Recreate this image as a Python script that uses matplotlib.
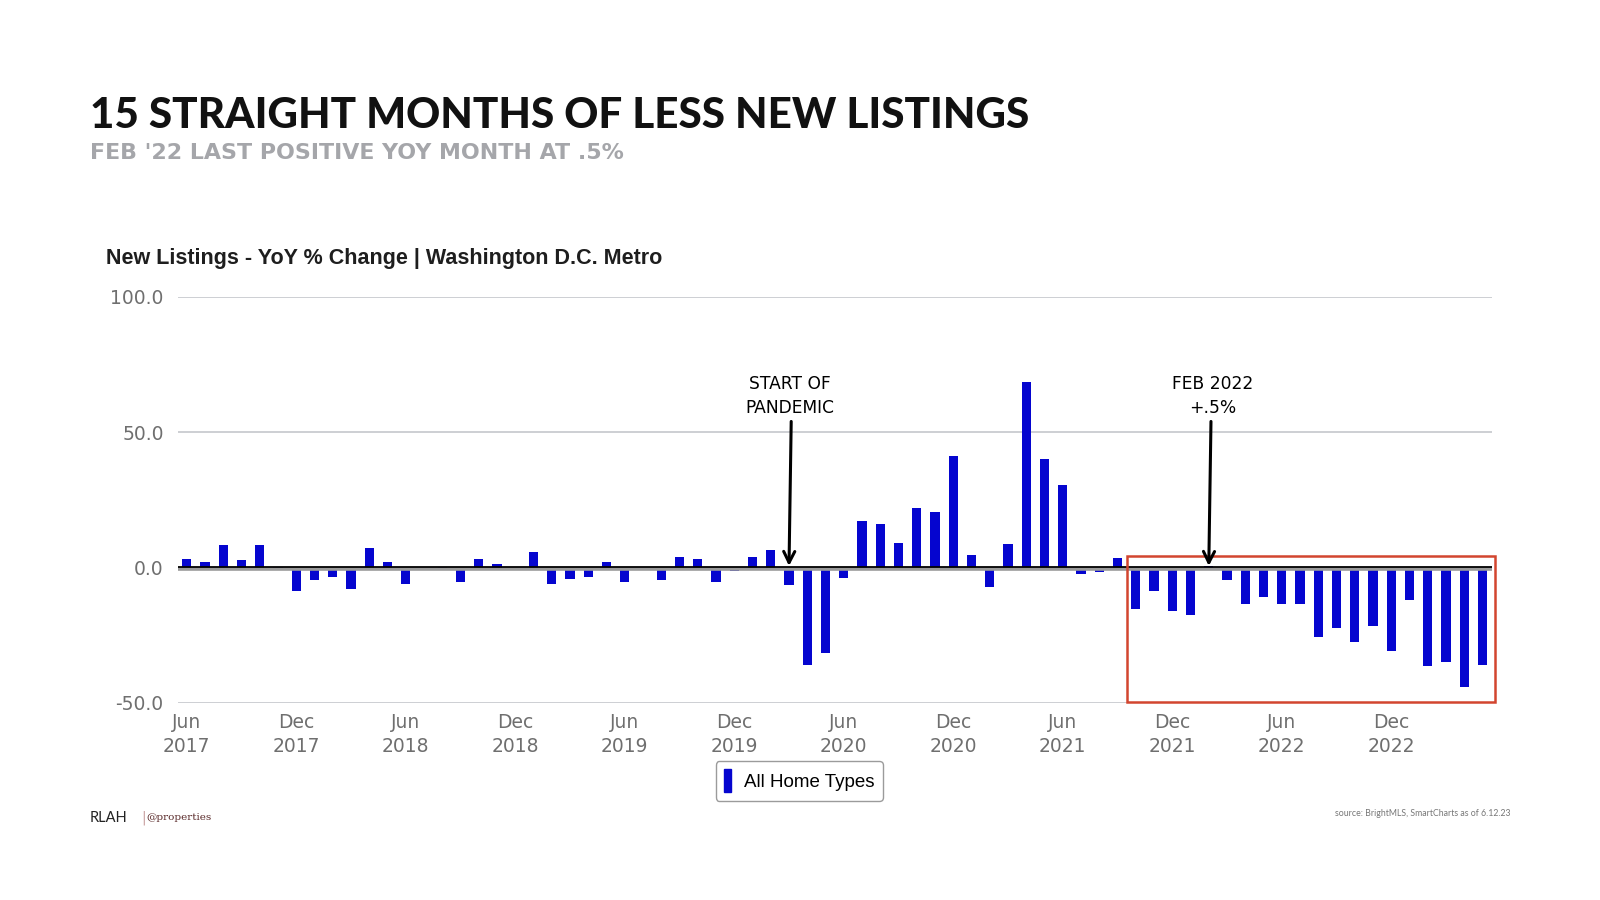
import numpy as np
import pandas as pd
import matplotlib.pyplot as plt
from matplotlib.patches import Rectangle, Patch


# ----------------------------
# Data
# ----------------------------

months = pd.period_range("2017-06", "2023-05", freq="M")

yoy_change = [
    3.3, 2.1, 8.2, 2.7, 8.2, 0.2,
    -8.6, -4.7, -3.3, -8.0, 7.3, 2.1,
    -6.2, -0.8, 0.2, -5.3, 3.3, 1.2,
    0.0, 5.6, -6.2, -4.1, -3.3, 2.1,
    -5.3, -0.8, -4.7, 3.9, 3.3, -5.3,
    -1.3, 3.9, 6.6, -6.6, -36.0, -31.6,
    -3.7, 17.2, 16.0, 9.2, 21.9, 20.5,
    41.2, 4.6, -7.0, 8.6, 68.6, 40.0,
    30.5, -2.3, -1.5, 3.7, -15.3, -8.5,
    -16.0, -17.4, 0.5, -4.7, -13.5, -10.8,
    -13.5, -13.5, -25.5, -22.2, -27.6, -21.5,
    -30.9, -12.1, -36.2, -34.9, -44.0, -36.0,
]

tick_labels = [
    "Jun\n2017", "Dec\n2017", "Jun\n2018", "Dec\n2018",
    "Jun\n2019", "Dec\n2019", "Jun\n2020", "Dec\n2020",
    "Jun\n2021", "Dec\n2021", "Jun\n2022", "Dec\n2022",
]

y_ticks = [-50, 0, 50, 100]

pandemic_month = "2020-03"
feb_2022_month = "2022-02"
box_start_month = "2021-10"


# ----------------------------
# Figure
# ----------------------------

fig = plt.figure(figsize=(16, 9), dpi=100)
fig.patch.set_facecolor("white")

ax = fig.add_axes([0.111, 0.219, 0.8213, 0.451])

x = np.arange(len(months))

ax.bar(
    x,
    yoy_change,
    width=0.5,
    color="#0505cf",
    zorder=2
)

# grid + zero line
for yv in y_ticks:
    if yv != 0:
        ax.axhline(yv, color="#c9ccd0", lw=1.3, zorder=1)

ax.axhline(-0.5, color="#9a9a9a", lw=2.6, zorder=3)
ax.axhline(0.25, color="black", lw=1.3, zorder=4)

ax.set_xlim(-0.5, 71.5)
ax.set_ylim(-50, 100)

ax.set_yticks(y_ticks)
ax.set_yticklabels([f"{v:.1f}" for v in y_ticks])

ax.set_xticks(x[::6])
ax.set_xticklabels(tick_labels, linespacing=1.35)

ax.tick_params(
    axis="both",
    length=0,
    labelsize=13.5,
    labelcolor="#6f6f6f"
)
ax.tick_params(axis="y", pad=10)
ax.tick_params(axis="x", pad=7)

for side in ["top", "right", "left", "bottom"]:
    ax.spines[side].set_visible(False)


# ----------------------------
# Annotations
# ----------------------------

idx_pandemic = months.get_loc(pd.Period(pandemic_month, freq="M"))
idx_feb = months.get_loc(pd.Period(feb_2022_month, freq="M"))
idx_box = months.get_loc(pd.Period(box_start_month, freq="M"))

note_font = dict(
    fontsize=12.3,
    family="DejaVu Sans",
    color="black",
    ha="center",
    va="center",
    linespacing=1.38
)

ax.text(idx_pandemic + 0.05, 63.4, "START OF\nPANDEMIC", **note_font)
ax.text(idx_feb + 0.2, 63.4, "FEB 2022\n+.5%", **note_font)

for idx in [idx_pandemic, idx_feb]:
    ax.annotate(
        "",
        xy=(idx, 0.6),
        xytext=(idx + 0.12, 54.0),
        arrowprops=dict(
            arrowstyle="->",
            color="black",
            lw=2.2,
            mutation_scale=20,
            shrinkA=0,
            shrinkB=0
        ),
        zorder=6
    )

ax.add_patch(
    Rectangle(
        (idx_box - 0.5, -49.6),
        71.7 - (idx_box - 0.5),
        53.8,
        fill=False,
        edgecolor="#d2452f",
        lw=1.8,
        zorder=5,
        clip_on=False
    )
)


# ----------------------------
# Legend
# ----------------------------

handle = Patch(facecolor="#0505cf", edgecolor="#0505cf")

fig.legend(
    [handle],
    ["All Home Types"],
    loc="center",
    bbox_to_anchor=(0.4995, 0.1325),
    prop=dict(family="Liberation Sans", size=13.5),
    handlelength=0.35,
    handleheight=1.5,
    handletextpad=0.7,
    borderpad=0.45,
    frameon=True,
    fancybox=True,
    edgecolor="#9b9b9b",
    framealpha=1
)


# ----------------------------
# Titles / footer
# ----------------------------

fig.text(
    0.056, 0.858,
    "15 STRAIGHT MONTHS OF LESS NEW LISTINGS",
    fontsize=30.3,
    family="Lato",
    fontweight="black",
    color="#111111",
    ha="left",
    va="baseline"
)

fig.text(
    0.056, 0.823,
    "FEB '22 LAST POSITIVE YOY MONTH AT .5%",
    fontsize=15.9,
    family="DejaVu Sans",
    fontweight="bold",
    color="#a5a6aa",
    ha="left",
    va="baseline"
)

fig.text(
    0.066, 0.707,
    "New Listings - YoY % Change | Washington D.C. Metro",
    fontsize=15.5,
    family="Liberation Sans",
    fontweight="bold",
    color="#1e1e1e",
    ha="left",
    va="baseline"
)

fig.text(
    0.056, 0.087,
    "RLAH",
    fontsize=10.5,
    family="Lato",
    color="#222222",
    ha="left",
    va="baseline"
)
fig.text(0.0885, 0.087, "|", fontsize=10, color="#c9a0a0", va="baseline")
fig.text(
    0.0915, 0.089,
    "@properties",
    fontsize=7.5,
    family="DejaVu Serif",
    color="#5a2a2a",
    ha="left",
    va="baseline"
)

fig.text(
    0.944, 0.093,
    "source: BrightMLS, SmartCharts as of 6.12.23",
    fontsize=6.3,
    family="Lato",
    color="#777777",
    ha="right",
    va="baseline"
)

fig.savefig("out.png", dpi=100, facecolor="white")
